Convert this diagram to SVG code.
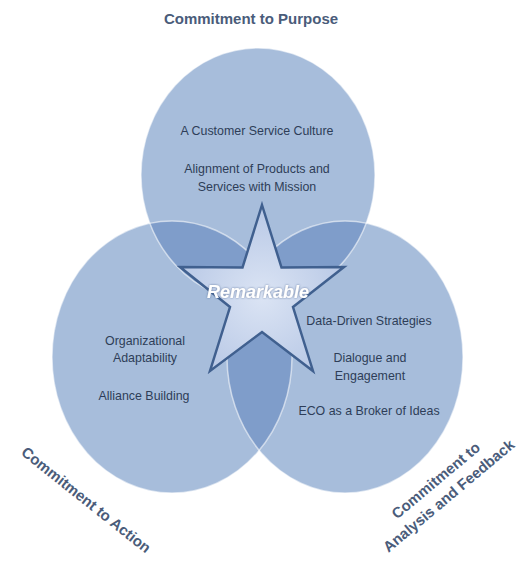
<svg xmlns="http://www.w3.org/2000/svg" xmlns:xlink="http://www.w3.org/1999/xlink" width="524" height="563" viewBox="0 0 524 563">
  <style>
    .disc { fill: #a7bddb; }
    .lens { fill: #7f9dca; }
    .core { fill: #6f8fc0; }
    .rim { fill: none; stroke: #ffffff; stroke-opacity: 0.55; stroke-width: 1.5; }
    .item { font-family: "Liberation Sans", Arial, sans-serif; font-size: 12.4px; fill: #2e3d58; text-anchor: middle; }
    .head { font-family: "Liberation Sans", Arial, sans-serif; font-size: 15px; font-weight: bold; fill: #4a5c7a; text-anchor: middle; }
    .star-label { font-family: "Liberation Sans", Arial, sans-serif; font-size: 18px; font-weight: bold; font-style: italic; fill: #ffffff; text-anchor: middle; }
  </style>
  <defs>
    <ellipse id="shapeTop" cx="258" cy="175" rx="117" ry="127"/>
    <ellipse id="shapeLeft" cx="172" cy="357" rx="120" ry="136"/>
    <ellipse id="shapeRight" cx="345" cy="357" rx="118" ry="136"/>
    <clipPath id="clipTop"><use xlink:href="#shapeTop"/></clipPath>
    <clipPath id="clipLeft"><use xlink:href="#shapeLeft"/></clipPath>
    <radialGradient id="starFill" cx="0.5" cy="0.55" r="0.6">
      <stop offset="0" stop-color="#dbe4f4"/>
      <stop offset="1" stop-color="#b4c5e4"/>
    </radialGradient>
    <filter id="softShadow" x="-10%" y="-30%" width="120%" height="160%">
      <feDropShadow dx="0" dy="0" stdDeviation="1.2" flood-color="#4a6490" flood-opacity="0.8"/>
    </filter>
  </defs>

  <!-- three commitment discs -->
  <g id="circle-purpose">
    <use xlink:href="#shapeTop" class="disc"/>
  </g>
  <g id="circle-action">
    <use xlink:href="#shapeLeft" class="disc"/>
  </g>
  <g id="circle-analysis">
    <use xlink:href="#shapeRight" class="disc"/>
  </g>

  <!-- overlapping regions -->
  <g id="overlaps">
    <g clip-path="url(#clipTop)"><use xlink:href="#shapeLeft" class="lens"/></g>
    <g clip-path="url(#clipTop)"><use xlink:href="#shapeRight" class="lens"/></g>
    <g clip-path="url(#clipLeft)"><use xlink:href="#shapeRight" class="lens"/></g>
    <g clip-path="url(#clipTop)"><g clip-path="url(#clipLeft)"><use xlink:href="#shapeRight" class="core"/></g></g>
    <use xlink:href="#shapeTop" class="rim"/>
    <use xlink:href="#shapeLeft" class="rim"/>
    <use xlink:href="#shapeRight" class="rim"/>
  </g>

  <!-- disc contents -->
  <g id="purpose-items">
    <text class="item" x="257" y="134.5">A Customer Service Culture</text>
    <text class="item" x="257" y="172.5">Alignment of Products and</text>
    <text class="item" x="257" y="190.5">Services with Mission</text>
  </g>
  <g id="action-items">
    <text class="item" x="145" y="344.5">Organizational</text>
    <text class="item" x="145" y="361.5">Adaptability</text>
    <text class="item" x="144" y="399.5">Alliance Building</text>
  </g>
  <g id="analysis-items">
    <text class="item" x="369" y="324.5">Data-Driven Strategies</text>
    <text class="item" x="370" y="361.5">Dialogue and</text>
    <text class="item" x="370" y="379.5">Engagement</text>
    <text class="item" x="369" y="414.5">ECO as a Broker of Ideas</text>
  </g>

  <!-- central star -->
  <g id="star-remarkable">
    <polygon points="262,205 281.5,267.5 344,267 293,307 313,371 262,332 210,371 230,307 180,267 242.5,267.5"
             fill="url(#starFill)" stroke="#40608f" stroke-width="2.5" stroke-linejoin="miter"/>
    <text class="star-label" x="258" y="298" filter="url(#softShadow)">Remarkable</text>
  </g>

  <!-- commitment headings -->
  <g id="label-purpose">
    <text class="head" x="251" y="24">Commitment to Purpose</text>
  </g>
  <g id="label-action" transform="translate(86,500) rotate(38.5)">
    <text class="head" x="0" y="5">Commitment to Action</text>
  </g>
  <g id="label-analysis" transform="translate(443,489) rotate(-40)">
    <text class="head" x="0" y="-6">Commitment to</text>
    <text class="head" x="0" y="14">Analysis and Feedback</text>
  </g>
</svg>
